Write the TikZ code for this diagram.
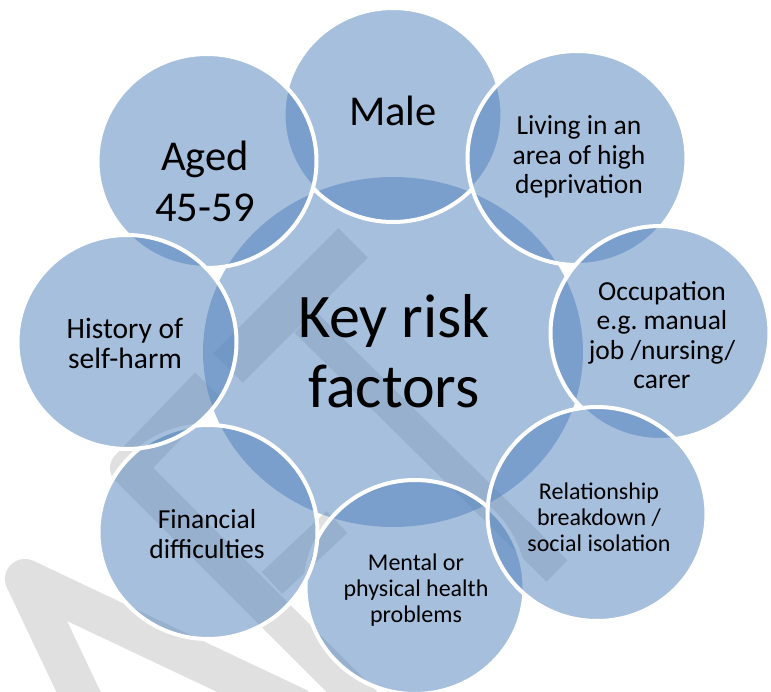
\documentclass[tikz,border=0pt]{standalone}
\usepackage{fontspec}
\setmainfont{Carlito}
\frenchspacing
\usetikzlibrary{shapes.geometric}
\definecolor{acc}{HTML}{4F81BD}
\definecolor{wmgrey}{HTML}{E0E0E0}
\begin{document}
\begin{tikzpicture}[x=1pt,y=-1pt,
  ring/.style={ellipse, minimum width=219pt, minimum height=214pt, inner sep=0pt,
    fill=acc, fill opacity=0.5, draw=white, line width=4pt},
  hub/.style={ellipse, minimum width=380pt, minimum height=350pt, inner sep=0pt,
    fill=acc, fill opacity=0.5},
  wmband/.style={draw=wmgrey, line join=round},
  lbl/.style={align=center, text=black, inner sep=0pt},
  big/.style={font=\fontsize{62}{70}\selectfont},
  mid/.style={font=\fontsize{42.5}{51}\selectfont},
  sml/.style={font=\fontsize{27.5}{29.5}\selectfont},
  hst/.style={font=\fontsize{29.5}{30}\selectfont},
  tiny/.style={font=\fontsize{24}{26}\selectfont}]
\clip (0,0) rectangle (771,692);
\fill[white] (0,0) rectangle (771,692);
% watermark
\draw[wmband, line width=42pt] (228,368) -- (353,243);
\draw[wmband, line width=30pt] (305,322) -- (557,571);
\draw[wmband, line width=36pt] (208,385) -- (128,468) -- (372,712);
\draw[wmband, line width=30pt] (272,583) -- (337,522);
\draw[wmband, line width=40pt] (88,712) -- (25,579) -- (300,709);
% hub
\node[hub] (hub) at (393,352) {};
% outer circles
\node[ring] (male)  at (393,115) {};
\node[ring] (live)  at (577,158) {};
\node[ring] (occ)   at (660,333) {};
\node[ring] (ment)  at (415,587) {};
\node[ring] (rel)   at (597,514) {};
\node[ring] (fin)   at (208,532) {};
\node[ring] (aged)  at (207,161) {};
\node[ring] (hist)  at (127,342) {};
% labels
\node[lbl, big] (thub) at (394,351) {Key risk\\factors};
\node[lbl, mid] (tmale) at (393,111) {Male};
\node[lbl, mid] (taged) at (205,181) {Aged\\45-59};
\node[lbl, sml] (tlive) at (579,157) {Living in an\\area of high\\deprivation};
\node[lbl, sml] (tocc) at (662,335) {Occupation\\e.g. manual\\job /nursing/\\carer};
\node[lbl, tiny] (trel) at (599,517) {Relationship\\breakdown /\\social isolation};
\node[lbl, tiny] (tment) at (416,590) {Mental or\\physical health\\problems};
\node[lbl, sml] (tfin) at (207,534) {Financial\\difficulties};
\node[lbl, hst] (thist) at (125,343) {History of\\self-harm};
\end{tikzpicture}
\end{document}
